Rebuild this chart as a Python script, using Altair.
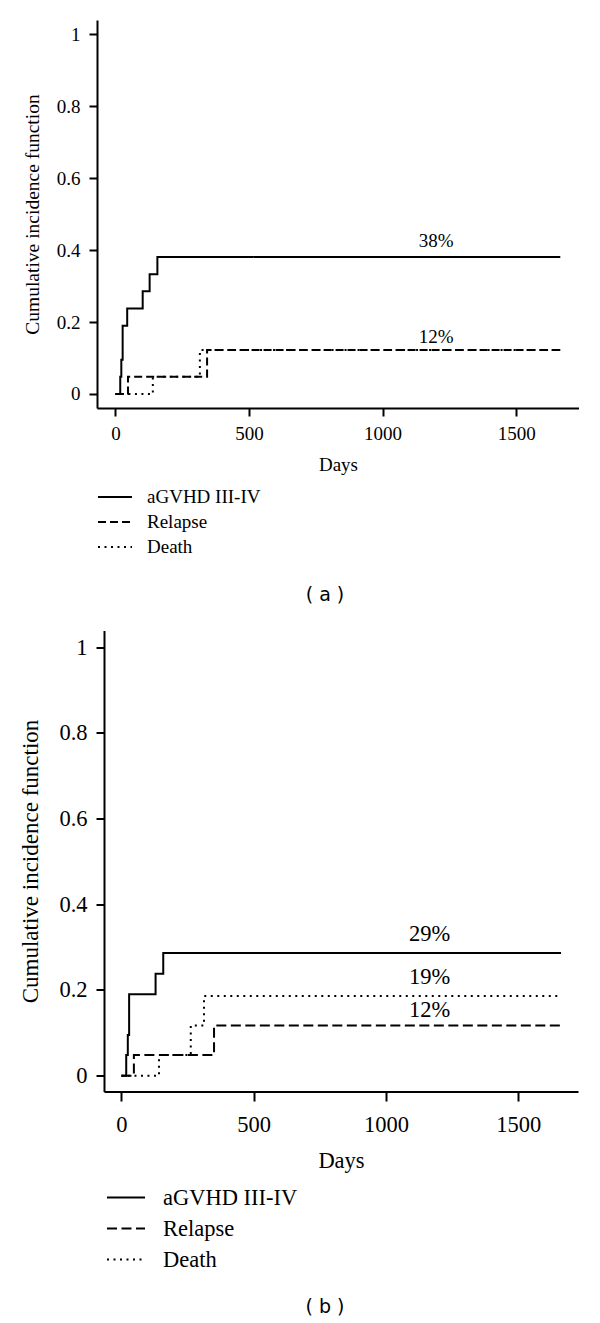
import altair as alt
import pandas as pd

SERIF = "Liberation Serif"
SANS = "DejaVu Sans"

SERIES = ["aGVHD III-IV", "Relapse", "Death"]

# ---- Panel (a) ----
a_gvhd_days = [0, 18, 22, 27, 44, 102, 128, 157, 1665]
a_gvhd_cif = [0, 0.048, 0.095, 0.190, 0.238, 0.286, 0.333, 0.381, 0.381]
a_relapse_days = [0, 47, 343, 1665]
a_relapse_cif = [0, 0.048, 0.122, 0.122]
a_death_days = [0, 140, 316, 1665]
a_death_cif = [0, 0.048, 0.122, 0.122]

# ---- Panel (b) ----
b_gvhd_days = [0, 18, 24, 29, 129, 158, 1662]
b_gvhd_cif = [0, 0.048, 0.095, 0.190, 0.238, 0.286, 0.286]
b_relapse_days = [0, 47, 350, 1662]
b_relapse_cif = [0, 0.048, 0.117, 0.117]
b_death_days = [0, 142, 262, 312, 1662]
b_death_cif = [0, 0.048, 0.117, 0.186, 0.186]

x_ticks = [0, 500, 1000, 1500]
y_ticks = [0, 0.2, 0.4, 0.6, 0.8, 1]


def long_df(days_list, cif_list):
    rows = []
    for s, days, cif in zip(SERIES, days_list, cif_list):
        for d, c in zip(days, cif):
            rows.append({"series": s, "day": d, "cif": c})
    return pd.DataFrame(rows)


def panel(days_list, cif_list, labelled, label_day, letter, p):
    df = long_df(days_list, cif_list)
    fs = p["fs"]
    k = p["k"]
    x_axis = alt.Axis(
        values=x_ticks, format="d", title="Days", grid=False,
        domainColor="black", domainWidth=2, tickColor="black", tickWidth=2,
        tickSize=8 * k, labelFont=SERIF, labelFontSize=fs, labelColor="black",
        labelPadding=p["xlabPad"], labelFlush=False, labelOverlap=False,
        titleFont=SERIF, titleFontSize=fs, titleFontWeight="normal",
        titleColor="black", titlePadding=12 * k,
    )
    y_axis = alt.Axis(
        values=y_ticks, format="~g", title="Cumulative incidence function",
        grid=False, domainColor="black", domainWidth=2, tickColor="black",
        tickWidth=2, tickSize=8, labelFont=SERIF, labelFontSize=fs,
        labelColor="black", labelPadding=9, labelFlush=False, labelOverlap=False,
        titleFont=SERIF, titleFontSize=p["tfs"], titleFontWeight="normal",
        titleColor="black", titlePadding=p["tpad"],
    )
    legend = alt.Legend(
        title=None, orient="none", legendX=p["legX"], legendY=p["legY"], padding=0,
        symbolType="stroke", symbolSize=p["sym"] ** 2, symbolStrokeWidth=2,
        symbolStrokeColor="black", labelFont=SERIF, labelFontSize=fs,
        labelColor="black", labelOffset=p["labOff"], clipHeight=p["clipH"],
        rowPadding=p["rowPad"],
    )
    x = alt.X("day:Q", scale=alt.Scale(domain=p["xdom"], nice=False, zero=False), axis=x_axis)
    y = alt.Y("cif:Q", scale=alt.Scale(domain=p["ydom"], nice=False, zero=False), axis=y_axis)
    lines = alt.Chart(df).mark_line(
        interpolate="step-after", strokeWidth=2, color="black", strokeCap="butt"
    ).encode(
        x=x, y=y,
        strokeDash=alt.StrokeDash(
            "series:N", scale=alt.Scale(domain=SERIES, range=p["dashes"]),
            legend=legend, sort=SERIES,
        ),
        order=alt.Order("day:Q"),
    )
    lab_rows = []
    for s, cif in zip(SERIES, cif_list):
        if s in labelled:
            lab_rows.append({"series": s, "day": label_day, "cif": cif[-1]})
    lab_df = pd.DataFrame(lab_rows)
    lab_main = alt.Chart(lab_df).transform_filter(
        alt.datum.series != "Relapse"
    ).mark_text(
        font=SERIF, fontSize=fs, baseline="alphabetic", align="center",
        color="black", dy=-10 * k,
    ).encode(x="day:Q", y="cif:Q", text=alt.Text("cif:Q", format=".0%"))
    lab_rel = alt.Chart(lab_df).transform_filter(
        alt.datum.series == "Relapse"
    ).mark_text(
        font=SERIF, fontSize=fs, baseline="alphabetic", align="center",
        color="black", dy=-6.8 * k,
    ).encode(x="day:Q", y="cif:Q", text=alt.Text("cif:Q", format=".0%"))
    let = alt.Chart(pd.DataFrame({"t": [letter]})).mark_text(
        font=SANS, fontSize=19, baseline="middle", align="center", color="black"
    ).encode(x=alt.value(p["letX"]), y=alt.value(p["letY"]), text="t:N")
    return alt.layer(lines, lab_main, lab_rel, let).properties(width=p["w"], height=p["h"])


PA = dict(xdom=[-69, 1735], ydom=[-0.039, 1.04], w=482, h=388, fs=19, tfs=19.5,
          tpad=14, k=1.0, xlabPad=8, dashes=[[1, 0], [8, 4], [2, 4.5]], sym=34,
          legX=0, legY=467, labOff=14, clipH=20, rowPad=5, letX=228, letY=575)
PB = dict(xdom=[-66, 1726], ydom=[-0.037, 1.039], w=474, h=461, fs=22.5, tfs=23,
          tpad=16, k=1.19, xlabPad=12, dashes=[[1, 0], [10, 4.5], [2, 4.5]], sym=38,
          legX=9, legY=556, labOff=17, clipH=22, rowPad=8, letX=221, letY=676)

top = panel([a_gvhd_days, a_relapse_days, a_death_days],
            [a_gvhd_cif, a_relapse_cif, a_death_cif],
            ["aGVHD III-IV", "Relapse"], 1200, "( a )", PA)
bot = panel([b_gvhd_days, b_relapse_days, b_death_days],
            [b_gvhd_cif, b_relapse_cif, b_death_cif],
            SERIES, 1165, "( b )", PB)

spacer = alt.Chart(pd.DataFrame({"v": [0]})).mark_point(opacity=0).properties(width=7, height=10)
bottom_row = alt.hconcat(spacer, bot, spacing=0, bounds="flush")

chart = alt.vconcat(top, bottom_row, spacing=222.5, bounds="flush").resolve_scale(
    strokeDash="independent", x="independent", y="independent"
).resolve_legend(strokeDash="independent").configure_view(stroke=None).properties(
    padding={"left": 11, "top": 12, "right": 0, "bottom": 0}, background="white"
)

chart.save("out.html", embed_options={"renderer": "svg", "actions": False})
